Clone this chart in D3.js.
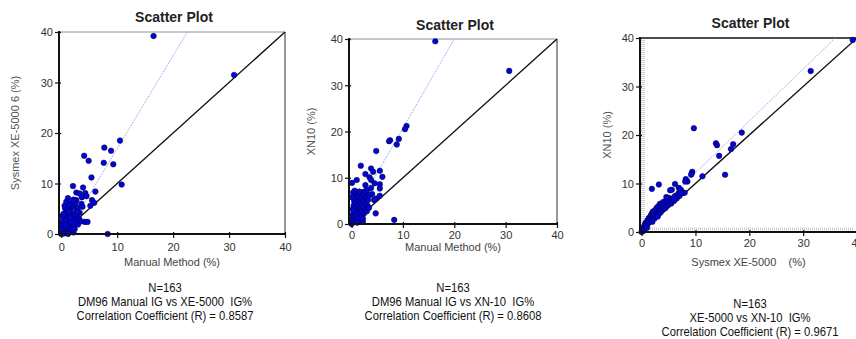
<!DOCTYPE html>
<html>
<head>
<meta charset="utf-8">
<script src="https://cdn.jsdelivr.net/npm/d3@7/dist/d3.min.js"></script>
<style>
  body { margin: 0; background: #fff; }
  svg { display: block; font-family: "Liberation Sans", Arial, sans-serif; }
</style>
</head>
<body>
<script>
// tick values shared by all three plots
const tickValues = [0, 10, 20, 30, 40];

// DM96 manual IG% (x) vs XE-5000 IG% (y)
const manualVsXE = [
  [16.5,39.2],[30.9,31.5],[10.5,18.5],[7.7,17.1],[8.9,16.5],[4.1,15.5],[4.9,14.5],[7.6,14.1],[9.3,13.8],
  [5.4,11.2],[10.8,9.8],[2.1,9.5],[3.9,9.2],[6.1,8.4],[2.7,8.2],[3.3,8.0],[4.3,8.1],[4.5,7.5],[3.7,7.3],
  [1.2,7.1],[2.7,6.7],[5.5,6.7],[5.9,6.2],[5.2,5.6],[0.7,5.1],[1.6,5.1],[4.2,2.4],[4.7,2.4],[8.3,0.0],
  [0.1,0.2],[0.2,0.8],[0.3,1.5],[0.5,0.5],[0.5,2.2],[0.6,3.0],[0.8,1.2],[0.8,4.2],[1.0,0.3],[1.0,2.0],
  [1.0,3.3],[1.1,5.0],[1.2,1.0],[1.3,2.6],[1.4,3.8],[1.5,0.6],[1.5,1.8],[1.6,4.5],[1.7,2.9],[1.8,1.2],
  [1.9,3.5],[2.0,0.8],[2.0,2.2],[2.1,5.5],[2.2,4.0],[2.3,1.5],[2.4,3.0],[2.5,6.0],[2.6,2.4],[2.7,4.8],
  [2.8,3.5],[3.0,1.9],[3.0,5.2],[3.2,3.0],[3.3,4.2],[3.5,2.5],[0.0,0.0],[0.0,1.0],[0.0,2.0],[0.2,3.5],
  [0.3,2.6],[0.4,0.1],[0.7,1.8],[0.9,2.7],[1.2,0.0],[1.3,4.4],[1.6,3.2],[1.8,2.3],[2.2,0.3],[2.4,1.0],
  [2.6,3.8],[2.9,4.3],[0.4,4.0],[0.6,5.6],[1.9,6.2],[2.2,6.8],[3.6,6.0],[3.8,5.4],[1.4,5.9],[0.9,6.4]
];

// DM96 manual IG% (x) vs XN-10 IG% (y)
const manualVsXN = [
  [16.3,39.5],[30.7,33.1],[10.7,21.2],[10.4,20.5],[9.2,18.4],[7.5,18.1],[7.3,17.9],[8.8,17.2],[4.8,15.8],
  [1.8,12.6],[3.8,12.0],[4.2,11.3],[5.5,11.5],[2.7,10.8],[0.1,8.9],[1.0,9.5],[6.0,10.2],[3.5,10.1],
  [3.8,9.5],[5.5,8.6],[4.5,8.8],[2.7,8.4],[5.5,7.7],[4.8,5.5],[4.4,5.2],[4.7,2.3],[8.3,0.9],[5.5,6.1],
  [4.5,5.3],[4.0,6.5],[3.8,7.8],
  [0.0,0.0],[0.1,1.0],[0.2,2.0],[0.2,3.2],[0.3,0.4],[0.4,4.0],[0.5,1.5],[0.5,5.0],[0.6,2.6],[0.7,3.5],
  [0.8,0.8],[0.8,6.0],[0.9,4.5],[1.0,1.9],[1.0,5.5],[1.1,2.9],[1.2,3.9],[1.2,6.5],[1.3,1.2],[1.4,4.9],
  [1.5,2.3],[1.5,6.0],[1.6,3.4],[1.7,0.5],[1.8,4.3],[1.9,5.6],[2.0,2.8],[2.0,6.8],[2.1,1.8],[2.2,3.8],
  [2.3,5.0],[2.4,6.2],[2.5,2.4],[2.6,4.5],[2.7,3.2],[2.8,5.8],[2.9,6.6],[3.0,2.8],[3.1,4.0],[3.2,5.2],
  [3.4,3.5],[3.5,6.2],[0.3,6.8],[0.6,7.2],[1.5,7.0],[2.5,7.0],[3.0,7.3],[0.1,5.8],[2.2,0.5],[2.2,1.2],
  [0.4,2.9],[1.1,0.3]
];

// XE-5000 IG% (x) vs XN-10 IG% (y)
const xeVsXN = [
  [39.2,39.6],[31.4,33.2],[9.7,21.4],[18.6,20.5],[13.8,18.3],[14.0,17.9],[17.0,18.1],[16.6,17.1],
  [14.4,15.7],[15.5,11.8],[11.3,11.5],[9.4,12.4],[9.3,12.1],[9.2,11.8],[8.2,10.9],[8.5,10.4],[8.1,10.4],
  [3.2,9.8],[1.9,8.9],[6.2,9.9],[6.9,9.1],[7.3,8.7],[5.6,8.7],[7.6,8.0],[8.0,8.1],[6.9,8.0],
  [0.0,0.0],[0.1,0.3],[0.2,0.5],[0.3,0.2],[0.4,1.0],[0.5,0.6],[0.6,1.4],[0.7,1.8],[0.8,1.1],[0.9,2.0],
  [1.0,1.5],[1.1,2.4],[1.2,1.8],[1.3,2.8],[1.4,2.2],[1.5,3.0],[1.6,2.5],[1.7,3.4],[1.8,2.4],[1.9,3.8],
  [2.0,2.9],[2.1,4.2],[2.2,3.2],[2.3,3.6],[2.4,2.8],[2.5,4.5],[2.6,3.4],[2.7,3.9],[2.8,5.0],[2.9,3.3],
  [3.0,4.2],[3.1,5.3],[3.2,3.8],[3.3,4.6],[3.4,5.8],[3.5,4.0],[3.6,5.0],[3.7,4.4],[3.8,5.6],[3.9,4.7],
  [4.0,6.2],[4.1,5.0],[4.2,5.6],[4.4,4.9],[4.5,6.4],[4.6,5.4],[4.8,6.6],[4.9,5.6],[5.0,6.0],[5.2,7.0],
  [5.4,6.2],[5.5,5.9],[5.8,6.8],[6.0,6.4],[6.2,7.4],[6.5,6.9],[6.8,7.8],[7.0,7.4],[7.3,8.0],[5.3,8.6],
  [4.6,7.2],[1.0,0.9],[2.0,2.1],[3.0,3.2]
];

// regression lines: [slope, intercept, last x]
const fitManualXE = [1.84, -1.5, 22.6];
const fitManualXN = [1.93, 1.4, 20.0];
const fitXEXN = [1.07, 1.5, 36.0];

const yTitles = ["Sysmex XE-5000 6 (%)", "XN10 (%)", "XN10 (%)"];
const xTitles = ["Manual Method (%)", "Manual Method (%)", "Sysmex XE-5000    (%)"];
const captions = [
  ["N=163", "DM96 Manual IG vs XE-5000  IG%", "Correlation Coefficient (R) = 0.8587"],
  ["N=163", "DM96 Manual IG vs XN-10  IG%", "Correlation Coefficient (R) = 0.8608"],
  ["N=163", "XE-5000 vs XN-10  IG%", "Correlation Coefficient (R) = 0.9671"]
];

const svg = d3.select("body").append("svg")
  .attr("width", 856)
  .attr("height", 339);

// layout of each panel (pixels)
const panels = [
  { data: manualVsXE, fit: fitManualXE, left: 59, right: 285, top: 32, bottom: 234, x0: -0.4,
    titleY: 22, tickY: 251, xTitleY: 266, yTitleX: 19, capX: 165, capY: 292, thickFrame: false, rug: false },
  { data: manualVsXN, fit: fitManualXN, left: 349, right: 557, top: 39, bottom: 224, x0: -0.5,
    titleY: 30, tickY: 239, xTitleY: 251, yTitleX: 315, capX: 453, capY: 292, thickFrame: false, rug: false },
  { data: xeVsXN, fit: fitXEXN, left: 640, right: 857, top: 38, bottom: 232, x0: -0.3,
    titleY: 28, tickY: 247, xTitleY: 266, yTitleX: 611, capX: 750, capY: 308, thickFrame: true, rug: true }
];

panels.forEach((p, i) => drawPanel(p, i));

function drawPanel(p, i) {
  const g = svg.append("g");
  const x = d3.scaleLinear().domain([p.x0, 40]).range([p.left, p.right]);
  const y = d3.scaleLinear().domain([0, 40]).range([p.bottom, p.top]);
  const cx = (p.left + p.right) / 2;

  // title
  g.append("text")
    .attr("x", cx + 2).attr("y", p.titleY)
    .attr("text-anchor", "middle")
    .attr("font-size", 14).attr("font-weight", "bold")
    .attr("fill", "#222")
    .text("Scatter Plot");

  // top / right frame
  g.append("line")
    .attr("x1", p.left).attr("x2", p.right).attr("y1", p.top).attr("y2", p.top)
    .attr("stroke", p.thickFrame ? "#111" : "#777")
    .attr("stroke-width", p.thickFrame ? 1.6 : 0.8);
  g.append("line")
    .attr("x1", p.right).attr("x2", p.right).attr("y1", p.top).attr("y2", p.bottom)
    .attr("stroke", "#333").attr("stroke-width", 1);

  // light gray dotted strips along the axes (third plot)
  if (p.rug) {
    g.append("line")
      .attr("x1", p.left + 3).attr("x2", p.left + 3).attr("y1", p.top + 2).attr("y2", p.bottom - 2)
      .attr("stroke", "#ccc").attr("stroke-width", 4).attr("stroke-dasharray", "1,1");
    g.append("line")
      .attr("x1", p.left + 4).attr("x2", p.right - 4).attr("y1", p.bottom - 3).attr("y2", p.bottom - 3)
      .attr("stroke", "#ccc").attr("stroke-width", 3).attr("stroke-dasharray", "1,1");
  }

  // identity line
  g.append("line")
    .attr("x1", x(0)).attr("y1", y(0)).attr("x2", x(40)).attr("y2", y(40))
    .attr("stroke", "#111").attr("stroke-width", 1.4);

  // regression line
  const [slope, intercept, xEnd] = p.fit;
  const xStart = Math.max(0, -intercept / slope);
  g.append("line")
    .attr("x1", x(xStart)).attr("y1", y(slope * xStart + intercept))
    .attr("x2", x(xEnd)).attr("y2", y(slope * xEnd + intercept))
    .attr("stroke", "#a4a4ff").attr("stroke-width", 0.9)
    .attr("stroke-dasharray", "2,1");

  // points
  g.append("g")
    .selectAll("circle")
    .data(p.data)
    .join("circle")
    .attr("cx", d => x(d[0]))
    .attr("cy", d => y(d[1]))
    .attr("r", 2.8)
    .attr("fill", "#0505d2")
    .attr("stroke", "#000044")
    .attr("stroke-width", 0.5);

  // axes
  const yAxis = g.append("g")
    .attr("transform", `translate(${p.left},0)`)
    .call(d3.axisLeft(y).tickValues(tickValues).tickSize(0).tickPadding(6));
  const xAxis = g.append("g")
    .attr("transform", `translate(0,${p.bottom})`)
    .call(d3.axisBottom(x).tickValues(tickValues).tickSize(0).tickPadding(0));
  [yAxis, xAxis].forEach(a => {
    a.select(".domain").remove();
    a.selectAll("text").attr("fill", "#333").attr("font-size", 11)
      .attr("font-family", "Liberation Sans, Arial, sans-serif");
  });
  yAxis.selectAll("text").attr("dy", "0.35em");
  xAxis.selectAll("text").attr("y", p.tickY - p.bottom).attr("dy", 0);
  yAxis.selectAll(".tick line").attr("x1", -4).attr("x2", 2)
    .attr("stroke", "#111").attr("stroke-width", 1.2);
  xAxis.selectAll(".tick line").attr("y1", -2).attr("y2", 4)
    .attr("stroke", "#111").attr("stroke-width", 1.2);

  g.append("line")
    .attr("x1", p.left).attr("x2", p.left).attr("y1", p.top - 1).attr("y2", p.bottom + 1)
    .attr("stroke", "#111").attr("stroke-width", 2);
  g.append("line")
    .attr("x1", p.left - 1).attr("x2", p.right).attr("y1", p.bottom).attr("y2", p.bottom)
    .attr("stroke", "#111").attr("stroke-width", 2);

  // axis titles
  g.append("text")
    .attr("x", cx).attr("y", p.xTitleY)
    .attr("text-anchor", "middle").attr("font-size", 11).attr("fill", "#444")
    .attr("xml:space", "preserve")
    .text(xTitles[i]);
  g.append("text")
    .attr("transform", `translate(${p.yTitleX},${(p.top + p.bottom) / 2}) rotate(-90)`)
    .attr("text-anchor", "middle").attr("font-size", 11).attr("fill", "#555")
    .text(yTitles[i]);

  // caption under the plot, set slightly condensed like the original
  g.append("g")
    .attr("transform", `translate(${p.capX},${p.capY}) scale(0.9,1)`)
    .selectAll("text")
    .data(captions[i])
    .join("text")
    .attr("x", 0)
    .attr("y", (d, k) => k * 14)
    .attr("text-anchor", "middle")
    .attr("font-size", 12.5)
    .attr("fill", "#111")
    .attr("xml:space", "preserve")
    .text(d => d);
}
</script>
</body>
</html>
